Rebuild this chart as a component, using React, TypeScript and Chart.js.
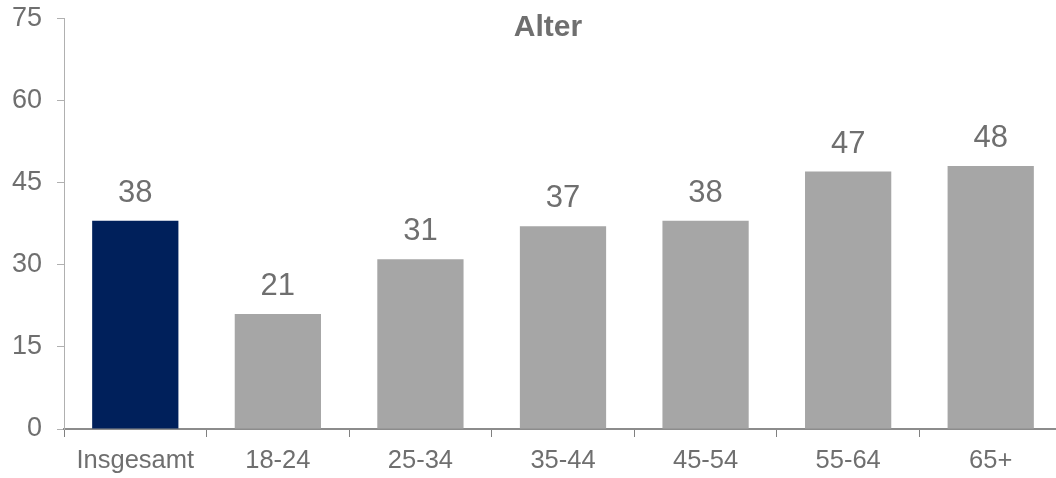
import React, { useEffect, useRef } from "react";
import { Chart, registerables } from "chart.js";

Chart.register(...registerables);

const categories = ["Insgesamt", "18-24", "25-34", "35-44", "45-54", "55-64", "65+"];
const values = [38, 21, 31, 37, 38, 47, 48];
const barColors = ["#00205B", "#A6A6A6", "#A6A6A6", "#A6A6A6", "#A6A6A6", "#A6A6A6", "#A6A6A6"];
const yTicks = [0, 15, 30, 45, 60, 75];
const titleText = "Alter";

const FONT = "'Liberation Sans', Arial, sans-serif";
const TEXT = "#6f6f6f";
const SHIFT = 13;

export default function App() {
  const ref = useRef<HTMLCanvasElement | null>(null);

  useEffect(() => {
    if (!ref.current) return;
    const labelPlugin = {
      id: "valueLabels",
      afterDatasetsDraw(chart: any) {
        const ctx = chart.ctx;
        const meta = chart.getDatasetMeta(0);
        ctx.save();
        ctx.font = `31px ${FONT}`;
        ctx.fillStyle = TEXT;
        ctx.textAlign = "center";
        ctx.textBaseline = "alphabetic";
        meta.data.forEach((el: any, i: number) => {
          ctx.fillText(String(values[i]), el.x, el.y - 19);
        });
        ctx.font = `bold 30px ${FONT}`;
        ctx.fillText(titleText, 548, 36 + SHIFT);
        ctx.restore();
      },
    };

    const chart = new Chart(ref.current, {
      type: "bar",
      data: {
        labels: categories,
        datasets: [
          {
            data: values,
            backgroundColor: barColors,
            barPercentage: 0.605,
            categoryPercentage: 1,
            borderWidth: 0,
          },
        ],
      },
      options: {
        animation: false,
        responsive: false,
        devicePixelRatio: 1,
        layout: { padding: { top: 7, left: 0, right: 0, bottom: 0 } },
        plugins: {
          legend: { display: false },
          tooltip: { enabled: false },
          title: { display: false },
        },
        scales: {
          x: {
            grid: {
              drawOnChartArea: false,
              drawTicks: true,
              tickLength: 8,
              color: "#808080",
              offset: true,
            },
            border: { color: "#8c8c8c", width: 2 },
            ticks: {
              font: { family: FONT, size: 25.5 },
              color: TEXT,
              padding: 9,
              maxRotation: 0,
              autoSkip: false,
            },
            afterFit: (scale: any) => {
              scale.height = 49;
            },
          },
          y: {
            min: 0,
            max: 75,
            afterBuildTicks: (scale: any) => {
              scale.ticks = yTicks.map((v) => ({ value: v }));
            },
            grid: {
              drawOnChartArea: false,
              drawTicks: true,
              tickLength: 7,
              color: "#b0b0b0",
            },
            border: { color: "#b0b0b0", width: 1 },
            ticks: {
              font: { family: FONT, size: 27 },
              color: TEXT,
              padding: 15,
            },
            afterFit: (scale: any) => {
              scale.width = 64;
            },
          },
        },
      },
      plugins: [labelPlugin],
    });
    return () => chart.destroy();
  }, []);

  return (
    <div
      style={{
        position: "fixed",
        left: 0,
        top: 0,
        width: 1056,
        height: 478,
        overflow: "hidden",
        background: "#ffffff",
      }}
    >
      <canvas
        ref={ref}
        width={1062}
        height={478 + SHIFT}
        style={{ width: 1062, height: 478 + SHIFT, display: "block", position: "absolute", left: 0, top: -SHIFT }}
      />
    </div>
  );
}
